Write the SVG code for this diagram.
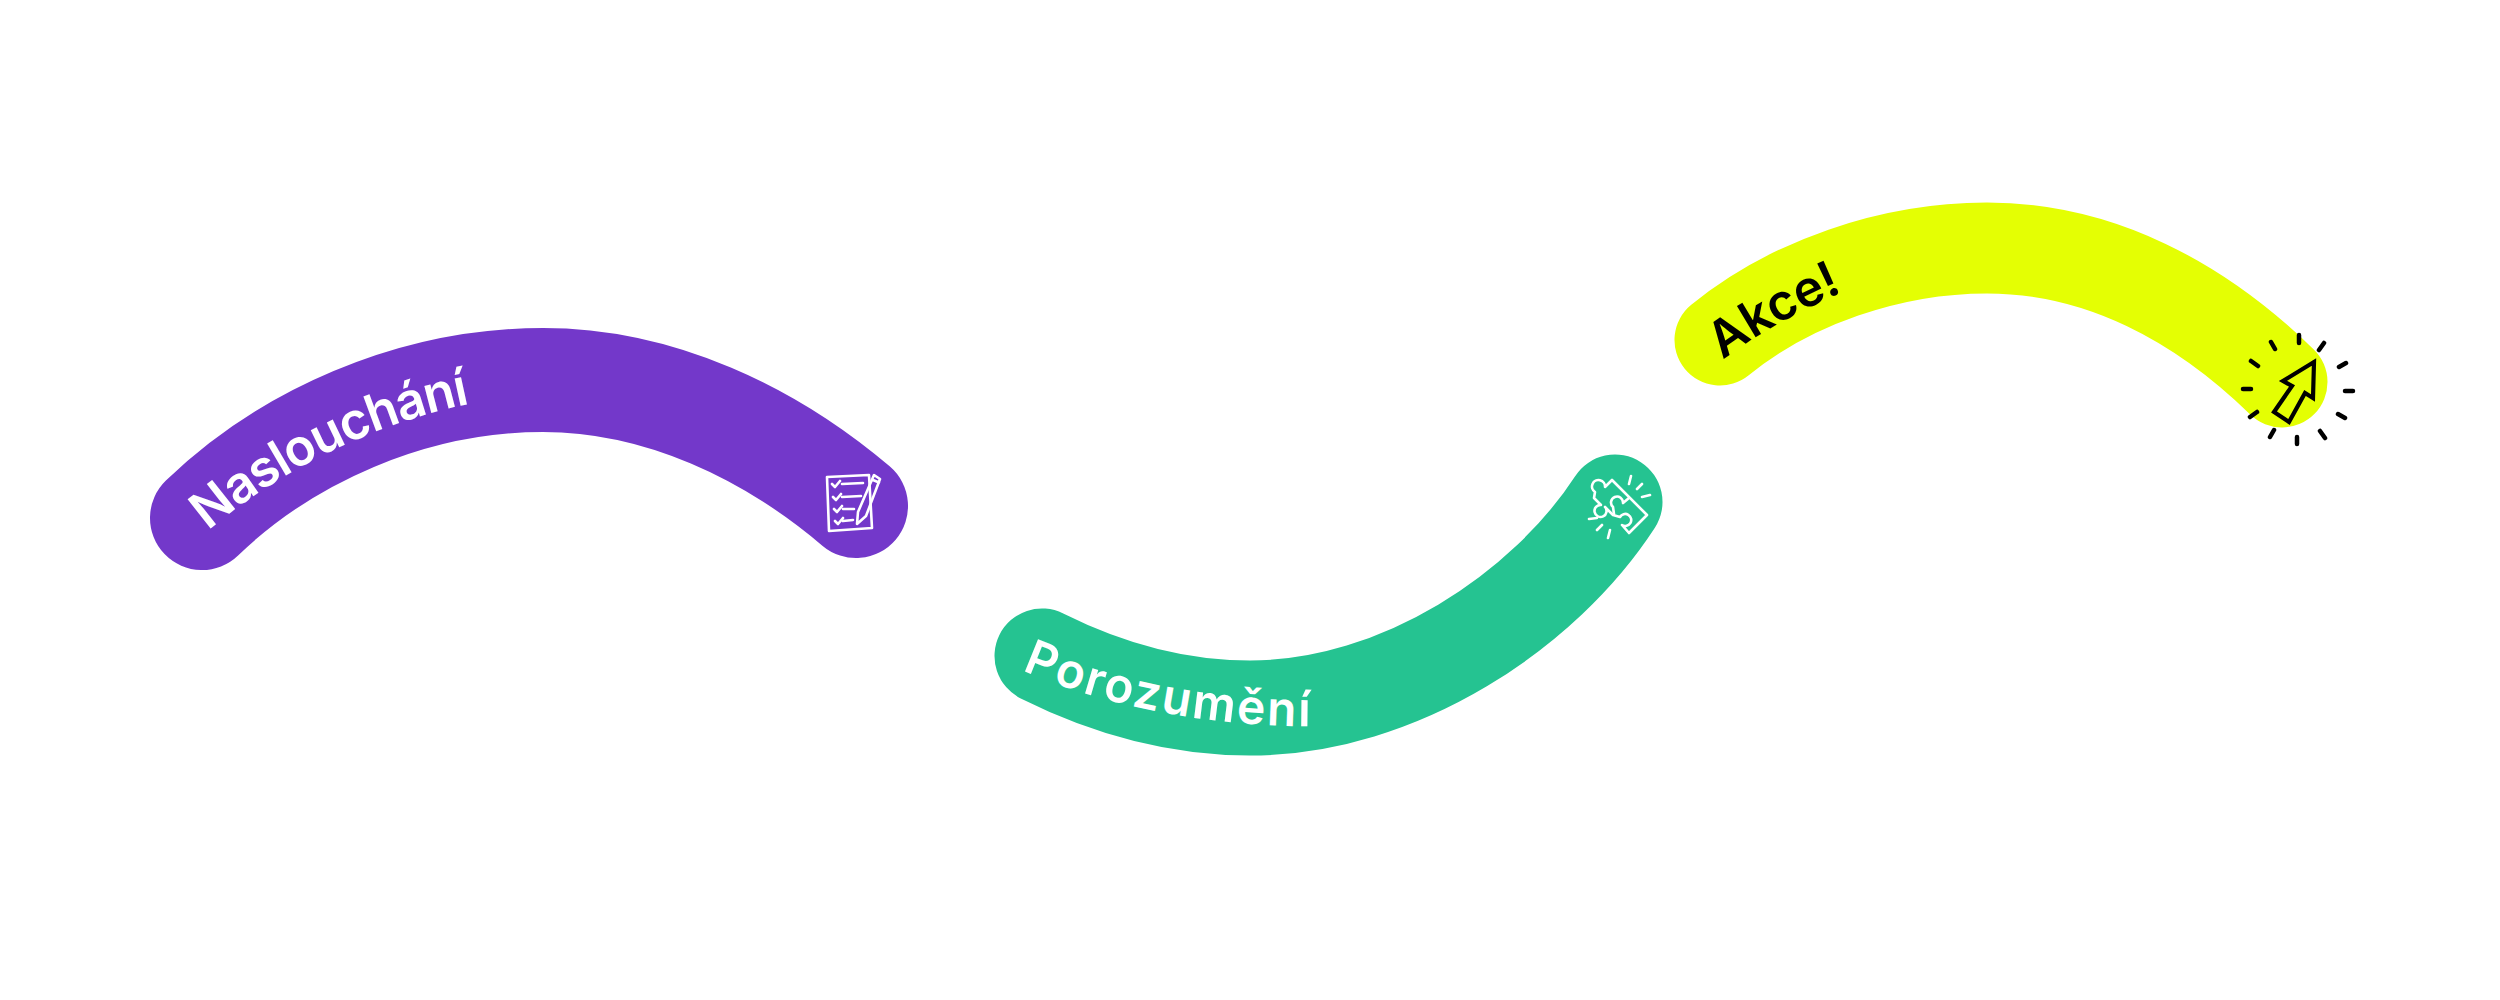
<svg xmlns="http://www.w3.org/2000/svg" width="2500" height="1000" viewBox="0 0 2500 1000">
<style>
.band{fill:none;stroke-linecap:round}
.lab{font-family:Inter,"Liberation Sans",sans-serif;font-weight:600}
.ic{fill:none;stroke:#fff;stroke-width:2.6;stroke-linecap:round;stroke-linejoin:round}
.ick{fill:none;stroke:#000;stroke-width:4.5;stroke-linecap:round}
</style>
<defs>
<path id="t1" d="M208 531 C270 478 370 420 490 400"/>
<path id="t2" d="M1022 670 C1090 700 1200 730 1340 726"/>
<path id="t3" d="M1723 360 C1760 332 1800 310 1870 280"/>
</defs>
<rect width="2500" height="1000" fill="#fff"/>
<g id="connectors">
<path class="band" stroke="#7338ca" stroke-width="104" d="M202 518 C285 438 410 380 543 380 C660 380 770 433 856 506"/>
<path class="band" stroke="#25c391" stroke-width="95" d="M1042 656 C1110 690 1180 708 1250 708 C1400 708 1545 610 1615 502"/>
<path class="band" stroke="#e4ff03" stroke-width="91" d="M1720 340 C1790 283 1890 248 1987 248 C2100 248 2200 302 2282 382"/>
</g>
<g id="node-1">
<text class="lab" fill="#fff" font-size="51" letter-spacing="-1.2" font-weight="700"><textPath href="#t1">Naslouchání</textPath></text>
<g class="ic">
<path d="M827 477L869 475L872 528L829 531Z"/>
<path d="M832 484l3 3 5-6M842 484l21-1M833 497l3 3 5-6M842 497l19-1M834 509l3 3 5-6M843 509l11 0M835 521l3 3 5-6M843 521l10-1"/>
<path d="M874 475L858 512L857 524L866 516L880 479ZM873 480l6 2.500"/>
</g>
</g>
<g id="node-2">
<text class="lab" fill="#fff" font-size="48" letter-spacing="2.200"><textPath href="#t2">Porozumění</textPath></text>
<g class="ic">
<path d="M1612 480L1647 515L1629 533L1622 525A6 6 0 1 0 1620 517L1613 515L1605 507A6 6 0 1 1 1601 505L1594 498L1595 492A6.500 6.500 0 1 1 1605 487Z"/>
<path d="M1629 498L1623 503A6 6 0 1 0 1613 507L1614 514"/>
<path d="M1631 476l-2 8M1642 484l-5 5M1650 495l-8 2M1597 518l-8 1M1602 525l-5 5M1610 530l-2 8"/>
</g>
</g>
<g id="node-3">
<text class="lab" fill="#000" font-size="50" font-weight="700"><textPath href="#t3">Akce!</textPath></text>
<path d="M2314 362L2283 381L2292 386L2274 412L2289 422L2305 393L2313 398Z" fill="none" stroke="#000" stroke-width="4.200" stroke-linejoin="miter"/>
<path class="ick" d="M2299 335v8M2324 343l-5 7M2346 363l-7 4M2353 391h-8M2345 418l-7-4M2325 438l-5-7M2297 444v-7M2270 437l4-7M2250 417l7-5M2243 389h8M2251 361l7 5M2271 342l4 7"/>
</g>
</svg>
